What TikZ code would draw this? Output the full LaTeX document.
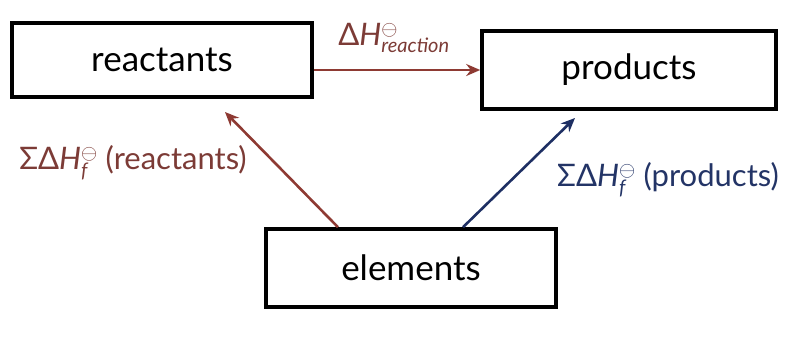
\documentclass[tikz,border=0pt]{standalone}
\usepackage{fontspec}
\setmainfont{Lato}
\usetikzlibrary{arrows.meta}
\definecolor{redarr}{HTML}{8E3A33}
\definecolor{redtxt}{HTML}{7C3B36}
\definecolor{bluearr}{HTML}{1E2F63}
\definecolor{bluetxt}{HTML}{233466}
\newcommand{\subtxt}[1]{\mbox{\fontsize{20}{22}\selectfont\itshape #1}}
\newcommand{\supsym}{\mbox{\fontsize{22}{24}\selectfont$\ominus$}}
\begin{document}
\begin{tikzpicture}[x=1pt,y=-1pt,
  box/.style={draw=black,line width=3.6pt,inner sep=0pt,font=\fontsize{35}{40}\selectfont},
  arr/.style={line width=2.6pt,-{Stealth[length=14pt,width=12pt]}},
  lbl/.style={font=\fontsize{31}{36}\selectfont,inner sep=0pt}]
\useasboundingbox (0,0) rectangle (804,341);
\node[box,minimum width=300pt,minimum height=74pt] (r) at (162,60) {reactants};
\node[box,minimum width=294pt,minimum height=78pt] (p) at (629,70) {products};
\node[box,minimum width=290pt,minimum height=78pt] (e) at (411,268) {elements};
\draw[arr,redarr] (r.east |- 0,70) -- (p.west |- 0,70);
\draw[arr,redarr] (e.north -| 338,0) -- (225,112);
\draw[arr,bluearr] (e.north -| 463,0) -- (575,118);
\node[lbl,text=redtxt] (lr) at (394,38) {Δ\textit{H}$^{\supsym}_{\subtxt{reaction}}$};
\node[lbl,text=redtxt] (lre) at (133,163) {ΣΔ\textit{H}$^{\supsym}_{\subtxt{f}}$ (reactants)};
\node[lbl,text=bluetxt] (lp) at (668,180) {ΣΔ\textit{H}$^{\supsym}_{\subtxt{f}}$ (products)};
\end{tikzpicture}
\end{document}
